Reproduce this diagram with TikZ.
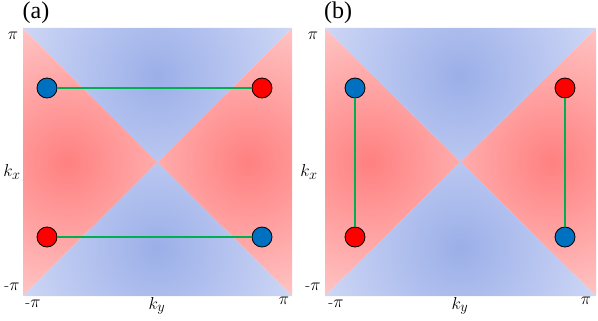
\documentclass[tikz,border=0pt]{standalone}
\usepackage{fontspec}
\newfontfamily\panfont{Liberation Serif}
\begin{document}
\begin{tikzpicture}[x=1pt,y=-1pt]
\definecolor{redc}{RGB}{255,128,128}
\definecolor{redo}{RGB}{255,200,200}
\definecolor{bluec}{RGB}{155,175,232}
\definecolor{blueo}{RGB}{208,216,246}
\definecolor{dotblue}{RGB}{0,112,192}
\definecolor{dotred}{RGB}{255,0,0}
\definecolor{linegreen}{RGB}{0,176,80}
\tikzset{
  dot/.style={circle,draw=black,line width=0.8pt,minimum size=20pt,inner sep=0pt},
  bdot/.style={dot,fill=dotblue},
  rdot/.style={dot,fill=dotred},
  link/.style={draw=linegreen,line width=1.2pt},
  lab/.style={inner sep=0pt,font=\fontsize{16}{18}\selectfont},
  axl/.style={inner sep=0pt,font=\fontsize{19}{22}\selectfont},
  panl/.style={inner sep=0pt,font=\panfont\fontsize{24}{28}\selectfont}
}
\useasboundingbox (0,0) rectangle (598,321);
% panel (a)
\def\L{23}\def\R{292}\def\T{28}\def\B{296}\def\CX{157.5}\def\CY{162}
\begin{scope}\clip (\L,\T) -- (\CX,\CY) -- (\L,\B) -- cycle;
\shade[inner color=redc,outer color=redo] (67,162) circle (150);\end{scope}
\begin{scope}\clip (\R,\T) -- (\CX,\CY) -- (\R,\B) -- cycle;
\shade[inner color=redc,outer color=redo] (248,162) circle (150);\end{scope}
\begin{scope}\clip (\L,\T) -- (\CX,\CY) -- (\R,\T) -- cycle;
\shade[inner color=bluec,outer color=blueo] (157,76) circle (150);\end{scope}
\begin{scope}\clip (\L,\B) -- (\CX,\CY) -- (\R,\B) -- cycle;
\shade[inner color=bluec,outer color=blueo] (157,248) circle (150);\end{scope}
% panel (b)
\def\L{325}\def\R{596}\def\CX{460.5}
\begin{scope}\clip (\L,\T) -- (\CX,\CY) -- (\L,\B) -- cycle;
\shade[inner color=redc,outer color=redo] (370,162) circle (150);\end{scope}
\begin{scope}\clip (\R,\T) -- (\CX,\CY) -- (\R,\B) -- cycle;
\shade[inner color=redc,outer color=redo] (552,162) circle (150);\end{scope}
\begin{scope}\clip (\L,\T) -- (\CX,\CY) -- (\R,\T) -- cycle;
\shade[inner color=bluec,outer color=blueo] (460,76) circle (150);\end{scope}
\begin{scope}\clip (\L,\B) -- (\CX,\CY) -- (\R,\B) -- cycle;
\shade[inner color=bluec,outer color=blueo] (460,248) circle (150);\end{scope}
% dots (a)
\node[bdot] (a1) at (47,88) {};
\node[rdot] (a2) at (262,88) {};
\node[rdot] (a3) at (47,237) {};
\node[bdot] (a4) at (262,237) {};
\draw[link] (a1) -- (a2);
\draw[link] (a3) -- (a4);
% dots (b)
\node[bdot] (b1) at (355,88) {};
\node[rdot] (b2) at (355,237) {};
\node[rdot] (b3) at (565,88) {};
\node[bdot] (b4) at (565,237) {};
\draw[link] (b1) -- (b2);
\draw[link] (b3) -- (b4);
% labels (a)
\node[panl] (pa) at (36,13) {(a)};
\node[lab] (ya1) at (13,36) {$\pi$};
\node[lab] (ya2) at (12,287) {-$\pi$};
\node[axl] (kxa) at (12,172) {$k_x$};
\node[lab] (xa1) at (33,304) {-$\pi$};
\node[axl] (kya) at (157,306) {$k_y$};
\node[lab] (xa2) at (284,301) {$\pi$};
% labels (b)
\node[panl] (pb) at (338,13) {(b)};
\node[lab] (yb1) at (313,36) {$\pi$};
\node[lab] (yb2) at (313,287) {-$\pi$};
\node[axl] (kxb) at (309,172) {$k_x$};
\node[lab] (xb1) at (336,304) {-$\pi$};
\node[axl] (kyb) at (460,306) {$k_y$};
\node[lab] (xb2) at (586,301) {$\pi$};
\end{tikzpicture}
\end{document}
